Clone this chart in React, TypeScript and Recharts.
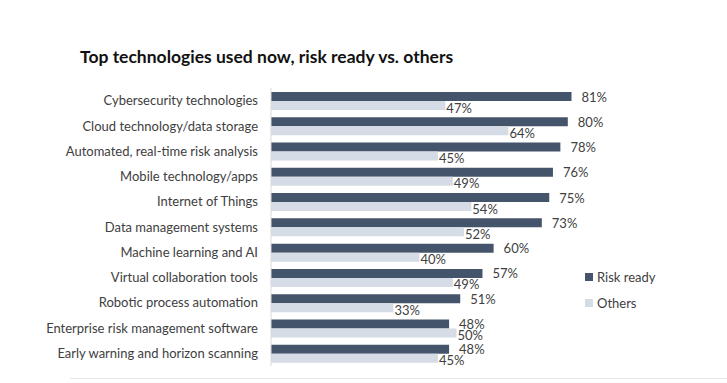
import { Bar, BarChart, LabelList, XAxis, YAxis, Legend } from "recharts"

const categories = [
  "Cybersecurity technologies",
  "Cloud technology/data storage",
  "Automated, real-time risk analysis",
  "Mobile technology/apps",
  "Internet of Things",
  "Data management systems",
  "Machine learning and AI",
  "Virtual collaboration tools",
  "Robotic process automation",
  "Enterprise risk management software",
  "Early warning and horizon scanning",
]
const riskReady = [81, 80, 78, 76, 75, 73, 60, 57, 51, 48, 48]
const others = [47, 64, 45, 49, 54, 52, 40, 49, 33, 50, 45]

const data = categories.map((name, i) => ({ name, risk: riskReady[i], others: others[i] }))

const DARK = "#44546a"
const LIGHT = "#d6dce5"
const TEXT = "#404040"
const FONT = "Lato, 'Open Sans', sans-serif"

const riskLabel = (p: any) => (
  <text x={p.x + p.width + 10} y={p.y + p.height / 2} dominantBaseline="central" fontSize={13} fill={TEXT} fontFamily={FONT}>
    {p.value}%
  </text>
)

const othersLabel = (p: any) => (
  <text x={p.x + p.width + 1} y={p.y + p.height / 2 + 2} dominantBaseline="central" fontSize={13} fill={TEXT} fontFamily={FONT}>
    {p.value}%
  </text>
)

const legendContent = () => (
  <div style={{ fontFamily: FONT, fontSize: 13, color: TEXT }}>
    {[
      { label: "Risk ready", color: DARK },
      { label: "Others", color: LIGHT },
    ].map((it) => (
      <div key={it.label} style={{ display: "flex", alignItems: "center", height: 26 }}>
        <span style={{ width: 8, height: 8, background: it.color, marginRight: 4, display: "inline-block" }} />
        {it.label}
      </div>
    ))}
  </div>
)

export default function App() {
  return (
    <div style={{ position: "absolute", left: 0, top: 0, width: 727, height: 383, background: "#fff" }}>
      <div style={{ position: "absolute", left: 80, top: 46, fontFamily: FONT, fontWeight: 700, fontSize: 17.5, color: "#111" }}>
        Top technologies used now, risk ready vs. others
      </div>
      <BarChart
        layout="vertical"
        width={727}
        height={383}
        data={data}
        margin={{ top: 88, right: 85, bottom: 17, left: 0 }}
        barGap={0}
        barSize={9}
      >
        <XAxis type="number" domain={[0, 100]} hide />
        <YAxis
          type="category"
          dataKey="name"
          width={271}
          tickLine={false}
          tickMargin={7}
          axisLine={{ stroke: "#d9d9d9" }}
          tick={{ fontSize: 13, fill: TEXT, fontFamily: FONT }}
          interval={0}
        />
        <Legend content={legendContent} wrapperStyle={{ left: 585, top: 264, width: 120, height: 0 }} />
        <Bar dataKey="risk" name="Risk ready" fill={DARK} isAnimationActive={false}>
          <LabelList dataKey="risk" content={riskLabel} />
        </Bar>
        <Bar dataKey="others" name="Others" fill={LIGHT} isAnimationActive={false}>
          <LabelList dataKey="others" content={othersLabel} />
        </Bar>
      </BarChart>
      <div style={{ position: "absolute", left: 70, top: 378, width: 657, height: 1, background: "#e6e6e6" }} />
    </div>
  )
}
